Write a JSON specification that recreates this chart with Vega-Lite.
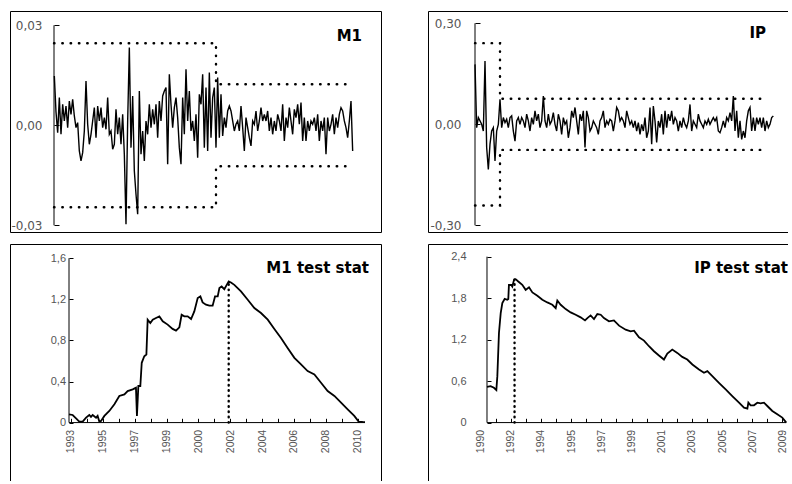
{
  "$schema": "https://vega.github.io/schema/vega-lite/v6.json",
  "background": "white",
  "padding": {"left": 9, "top": 10, "right": -12, "bottom": -14},
  "spacing": 10,
  "config": {
    "view": {"stroke": "black", "strokeWidth": 1},
    "axis": {"labelFont": "Liberation Sans", "labelColor": "#555555", "grid": false, "domain": false, "tickColor": "black", "tickWidth": 1, "title": null},
    "title": {"font": "DejaVu Sans", "fontWeight": "bold", "color": "black", "anchor": "end", "frame": "group", "orient": "top", "baseline": "alphabetic"}
  },
  "datasets": {
    "m1": [
      {"t":-1,"v":0.0148},{"t":0,"v":0.004},{"t":1,"v":-0.0022},{"t":2,"v":0.0083},{"t":3,"v":-0.0027},{"t":4,"v":0.0063},{"t":5,"v":0.0013},{"t":6,"v":0.0058},{"t":7,"v":-0.0007},{"t":8,"v":0.0073},{"t":9,"v":0.0033},{"t":10,"v":0.0078},{"t":11,"v":0.0028},{"t":12,"v":-0.0007},{"t":13,"v":0.0008},{"t":14,"v":-0.0077},{"t":15,"v":-0.0107},{"t":16,"v":-0.0082},{"t":17,"v":-0.0017},{"t":18,"v":0.0133},{"t":19,"v":0.0003},{"t":20,"v":-0.0057},{"t":21,"v":-0.0027},{"t":22,"v":0.0013},{"t":23,"v":0.0053},{"t":24,"v":-0.0037},{"t":25,"v":0.0058},{"t":26,"v":0.0013},{"t":27,"v":0.0053},{"t":28,"v":-0.0007},{"t":29,"v":0.0023},{"t":30,"v":-0.0012},{"t":31,"v":0.0083},{"t":32,"v":-0.0027},{"t":33,"v":-0.0017},{"t":34,"v":-0.0072},{"t":35,"v":-0.0057},{"t":36,"v":0.0048},{"t":37,"v":-0.0027},{"t":38,"v":0.0023},{"t":39,"v":-0.0057},{"t":40,"v":0.0033},{"t":41,"v":-0.0087},{"t":42,"v":-0.0297},{"t":43,"v":0.0013},{"t":44,"v":0.0233},{"t":45,"v":-0.0067},{"t":46,"v":0.0088},{"t":47,"v":-0.0137},{"t":48,"v":-0.0207},{"t":49,"v":-0.0267},{"t":50,"v":0.0103},{"t":51,"v":-0.0087},{"t":52,"v":-0.0017},{"t":53,"v":-0.0107},{"t":54,"v":0.0013},{"t":55,"v":-0.0027},{"t":56,"v":0.0063},{"t":57,"v":-0.0007},{"t":58,"v":0.0048},{"t":59,"v":0.0003},{"t":60,"v":0.0063},{"t":61,"v":-0.0037},{"t":62,"v":0.0073},{"t":63,"v":0.0013},{"t":64,"v":0.0088},{"t":65,"v":0.0103},{"t":66,"v":0.0113},{"t":67,"v":-0.0117},{"t":68,"v":0.0153},{"t":69,"v":0.0063},{"t":70,"v":-0.0007},{"t":71,"v":0.0053},{"t":72,"v":0.0083},{"t":73,"v":0.0023},{"t":74,"v":-0.0067},{"t":75,"v":-0.0117},{"t":76,"v":0.0083},{"t":77,"v":-0.0027},{"t":78,"v":0.0168},{"t":79,"v":0.0013},{"t":80,"v":0.0103},{"t":81,"v":-0.0017},{"t":82,"v":0.0013},{"t":83,"v":-0.0047},{"t":84,"v":0.0033},{"t":85,"v":-0.0097},{"t":86,"v":0.0093},
      {"t":87,"v":0.0063},{"t":88,"v":0.0153},{"t":89,"v":-0.0067},{"t":90,"v":0.0113},{"t":91,"v":-0.0077},{"t":92,"v":0.0158},{"t":93,"v":-0.0037},{"t":94,"v":0.0083},{"t":95,"v":0.0113},{"t":96,"v":-0.0067},{"t":97,"v":0.0143},{"t":98,"v":-0.0037},{"t":99,"v":0.0093},{"t":100,"v":-0.0032},{"t":101,"v":0.0023},{"t":102,"v":-0.0007},{"t":103,"v":0.0043},{"t":104,"v":0.0058},{"t":105,"v":0.0043},{"t":106,"v":0.0013},{"t":107,"v":-0.0017},{"t":108,"v":0.0003},{"t":109,"v":0.0013},{"t":110,"v":-0.0017},{"t":111,"v":0.0058},{"t":112,"v":-0.0007},{"t":113,"v":-0.0077},{"t":114,"v":0.0023},{"t":115,"v":-0.0007},{"t":116,"v":-0.0037},{"t":117,"v":-0.0062},{"t":118,"v":0.0013},{"t":119,"v":0.0003},{"t":120,"v":0.0043},{"t":121,"v":-0.0017},{"t":122,"v":0.0013},{"t":123,"v":0.0053},{"t":124,"v":0.0013},{"t":125,"v":0.0033},{"t":126,"v":0.0013},{"t":127,"v":0.0043},{"t":128,"v":-0.0017},{"t":129,"v":0.0023},{"t":130,"v":-0.0027},{"t":131,"v":0.0013},{"t":132,"v":-0.0017},{"t":133,"v":0.0033},{"t":134,"v":0.0013},{"t":135,"v":-0.0017},{"t":136,"v":0.0063},{"t":137,"v":-0.0047},{"t":138,"v":0.0023},{"t":139,"v":-0.0007},{"t":140,"v":0.0053},{"t":141,"v":0.0013},{"t":142,"v":-0.0027},{"t":143,"v":0.0048},{"t":144,"v":0.0023},{"t":145,"v":0.0063},{"t":146,"v":0.0003},{"t":147,"v":0.0068},{"t":148,"v":-0.0047},{"t":149,"v":0.0023},{"t":150,"v":-0.0047},{"t":151,"v":0.0013},{"t":152,"v":-0.0017},{"t":153,"v":0.0013},{"t":154,"v":0.0003},{"t":155,"v":0.0023},{"t":156,"v":-0.0017},{"t":157,"v":0.0033},{"t":158,"v":-0.0047},{"t":159,"v":0.0013},{"t":160,"v":-0.0017},{"t":161,"v":0.0023},{"t":162,"v":-0.0087},{"t":163,"v":0.0023},{"t":164,"v":-0.0017},{"t":165,"v":0.0003},{"t":166,"v":0.0033},{"t":167,"v":-0.0027},{"t":168,"v":0.0023},{"t":169,"v":-0.0007},{"t":170,"v":0.0033},{"t":171,"v":0.0053},{"t":172,"v":0.0043},{"t":173,"v":0.0013},{"t":174,"v":-0.0007},{"t":175,"v":-0.0037},{"t":176,"v":0.0013},{"t":177,"v":0.0073},{"t":178,"v":-0.0077}
    ],
    "m1band": [
      {"s":"u","k":0,"t":-1.2,"v":0.0246},{"s":"u","k":1,"t":96,"v":0.0246},{"s":"u","k":2,"t":96,"v":0.0123},{"s":"u","k":3,"t":178,"v":0.0123},
      {"s":"l","k":0,"t":-1.2,"v":-0.0246},{"s":"l","k":1,"t":96,"v":-0.0246},{"s":"l","k":2,"t":96,"v":-0.0123},{"s":"l","k":3,"t":178,"v":-0.0123}
    ],
    "ip": [
      {"t":0,"v":0.178},{"t":1,"v":-0.01},{"t":2,"v":0.02},{"t":3,"v":0.01},{"t":4,"v":0},{"t":5,"v":-0.02},{"t":6,"v":0.188},{"t":7,"v":-0.069},{"t":8,"v":-0.134},{"t":9,"v":-0.059},{"t":10,"v":-0.02},{"t":11,"v":-0.01},{"t":12,"v":-0.109},{"t":13,"v":-0.02},{"t":14,"v":0},{"t":15,"v":0.074},{"t":16,"v":-0.01},{"t":17,"v":0.02},{"t":18,"v":0.005},{"t":19,"v":0.015},{"t":20,"v":-0.01},{"t":21,"v":0.02},{"t":22,"v":0.025},{"t":23,"v":-0.02},{"t":24,"v":-0.05},{"t":25,"v":0.01},{"t":26,"v":0.02},{"t":27,"v":0},{"t":28,"v":0.02},{"t":29,"v":0.01},{"t":30,"v":-0.01},{"t":31,"v":0.03},{"t":32,"v":0.01},{"t":33,"v":-0.02},{"t":34,"v":0.02},{"t":35,"v":0},{"t":36,"v":0.04},{"t":37,"v":0.01},{"t":38,"v":0.03},{"t":39,"v":-0.01},{"t":40,"v":0.01},{"t":41,"v":0.084},{"t":42,"v":0.01},{"t":43,"v":-0.01},{"t":44,"v":0.03},{"t":45,"v":0},{"t":46,"v":0.01},{"t":47,"v":0.035},{"t":48,"v":0},{"t":49,"v":-0.02},{"t":50,"v":0.03},{"t":51,"v":0.01},{"t":52,"v":-0.03},{"t":53,"v":0.02},{"t":54,"v":0},{"t":55,"v":0.01},{"t":56,"v":-0.04},{"t":57,"v":-0.01},{"t":58,"v":0.04},{"t":59,"v":0.02},{"t":60,"v":0.05},{"t":61,"v":0.01},{"t":62,"v":-0.03},{"t":63,"v":0.03},{"t":64,"v":0.01},{"t":65,"v":0.04},{"t":66,"v":-0.069},{"t":67,"v":0.04},{"t":68,"v":0.02},{"t":69,"v":-0.02},{"t":70,"v":-0.01},{"t":71,"v":0.01},{"t":72,"v":0},{"t":73,"v":-0.01},{"t":74,"v":-0.03},{"t":75,"v":0.01},{"t":76,"v":0.02},{"t":77,"v":0.04},{"t":78,"v":-0.01},{"t":79,"v":0.01},{"t":80,"v":0},{"t":81,"v":0.015},{"t":82,"v":0.01},{"t":83,"v":-0.02},{"t":84,"v":0.01},{"t":85,"v":0.05},{"t":86,"v":0.04},{"t":87,"v":0.01},{"t":88,"v":0.02},{"t":89,"v":0.01},
      {"t":90,"v":-0.01},{"t":91,"v":0.04},{"t":92,"v":0.02},{"t":93,"v":0},{"t":94,"v":0.01},{"t":95,"v":-0.01},{"t":96,"v":0.01},{"t":97,"v":-0.02},{"t":98,"v":0.005},{"t":99,"v":-0.03},{"t":100,"v":0},{"t":101,"v":-0.02},{"t":102,"v":0.02},{"t":103,"v":-0.04},{"t":104,"v":-0.02},{"t":105,"v":0.05},{"t":106,"v":-0.059},{"t":107,"v":0.054},{"t":108,"v":0.01},{"t":109,"v":-0.054},{"t":110,"v":0.01},{"t":111,"v":-0.01},{"t":112,"v":0.03},{"t":113,"v":-0.03},{"t":114,"v":0.04},{"t":115,"v":-0.01},{"t":116,"v":0.03},{"t":117,"v":0.01},{"t":118,"v":0.04},{"t":119,"v":0},{"t":120,"v":0.02},{"t":121,"v":0.01},{"t":122,"v":-0.02},{"t":123,"v":0.01},{"t":124,"v":-0.01},{"t":125,"v":0.02},{"t":126,"v":0},{"t":127,"v":-0.01},{"t":128,"v":0.01},{"t":129,"v":0.059},{"t":130,"v":-0.02},{"t":131,"v":0.01},{"t":132,"v":0},{"t":133,"v":-0.01},{"t":134,"v":0.03},{"t":135,"v":0.01},{"t":136,"v":0},{"t":137,"v":-0.01},{"t":138,"v":0.01},{"t":139,"v":0},{"t":140,"v":0.015},{"t":141,"v":0},{"t":142,"v":0.01},{"t":143,"v":0.02},{"t":144,"v":0.01},{"t":145,"v":0.02},{"t":146,"v":-0.02},{"t":147,"v":-0.025},{"t":148,"v":-0.01},{"t":149,"v":0.01},{"t":150,"v":-0.01},{"t":151,"v":0.02},{"t":152,"v":0.01},{"t":153,"v":0.035},{"t":154,"v":0.01},{"t":155,"v":0.084},{"t":156,"v":-0.02},{"t":157,"v":0.04},{"t":158,"v":-0.04},{"t":159,"v":0.01},{"t":160,"v":-0.045},{"t":161,"v":-0.02},{"t":162,"v":-0.04},{"t":163,"v":0.01},{"t":164,"v":0.04},{"t":165,"v":0.05},{"t":166,"v":-0.02},{"t":167,"v":0.02},{"t":168,"v":-0.02},{"t":169,"v":0.02},{"t":170,"v":0},{"t":171,"v":0.02},{"t":172,"v":-0.01},{"t":173,"v":0.02},{"t":174,"v":-0.02},{"t":175,"v":0.01},{"t":176,"v":-0.01},{"t":177,"v":0},{"t":178,"v":0.02},{"t":179,"v":0.025}
    ],
    "ipband": [
      {"s":"u","k":0,"t":0,"v":0.241},{"s":"u","k":1,"t":15,"v":0.241},{"s":"u","k":2,"t":15,"v":0.076},{"s":"u","k":3,"t":175.2,"v":0.076},
      {"s":"l","k":0,"t":0,"v":-0.241},{"s":"l","k":1,"t":15,"v":-0.241},{"s":"l","k":2,"t":15,"v":-0.076},{"s":"l","k":3,"t":175.2,"v":-0.076}
    ],
    "m1stat": [
      {"t":0,"v":0.081},{"t":2.6,"v":0.074},{"t":5.0,"v":0.042},{"t":7.3,"v":0.01},{"t":9.7,"v":0.01},{"t":12.1,"v":0.048},{"t":14.4,"v":0.074},{"t":15.6,"v":0.055},{"t":16.8,"v":0.074},{"t":19.2,"v":0.048},{"t":20.3,"v":0.065},{"t":21.5,"v":0.01},{"t":22.7,"v":0.016},{"t":25.1,"v":0.065},{"t":28.6,"v":0.113},{"t":32.2,"v":0.178},{"t":35.7,"v":0.259},{"t":39.3,"v":0.275},{"t":41.6,"v":0.307},{"t":45.2,"v":0.323},{"t":47.5,"v":0.339},{"t":48.2,"v":0.065},{"t":49.2,"v":0.356},{"t":50.6,"v":0.356},{"t":51.6,"v":0.582},{"t":53.4,"v":0.646},{"t":54.9,"v":0.663},{"t":55.8,"v":1.002},{"t":57.7,"v":0.97},{"t":59.4,"v":1.002},{"t":61.7,"v":1.018},{"t":64.1,"v":1.034},{"t":66.5,"v":0.986},{"t":70.0,"v":0.954},{"t":73.5,"v":0.912},{"t":75.9,"v":0.895},{"t":78.3,"v":0.928},{"t":79.9,"v":1.05},{"t":81.8,"v":1.034},{"t":84.2,"v":1.034},{"t":86.6,"v":1.008},{"t":88.9,"v":1.083},{"t":91.3,"v":1.212},{"t":93.2,"v":1.228},{"t":94.8,"v":1.17},{"t":97.2,"v":1.148},{"t":99.6,"v":1.138},{"t":101.9,"v":1.138},{"t":103.6,"v":1.228},{"t":105.5,"v":1.228},{"t":106.7,"v":1.309},{"t":108.3,"v":1.325},{"t":110.2,"v":1.299},{"t":111.9,"v":1.341},{"t":113.3,"v":1.374},{"t":114.9,"v":1.364},{"t":117.3,"v":1.341},{"t":122.0,"v":1.277},{"t":126.8,"v":1.196},{"t":131.5,"v":1.115},{"t":136.2,"v":1.067},{"t":141.0,"v":1.002},{"t":145.7,"v":0.912},{"t":150.4,"v":0.824},{"t":155.1,"v":0.727},{"t":159.9,"v":0.63},{"t":164.6,"v":0.566},{"t":169.3,"v":0.501},{"t":174.1,"v":0.469},{"t":178.8,"v":0.388},{"t":183.5,"v":0.307},{"t":188.3,"v":0.259},{"t":193.0,"v":0.194},{"t":197.7,"v":0.129},{"t":202.4,"v":0.065},{"t":205.5,"v":0.01},{"t":208.3,"v":0.006},{"t":210,"v":0.005}
    ],
    "ipstat": [
      {"t":0,"v":0.518},{"t":2.9,"v":0.528},{"t":5.6,"v":0.504},{"t":7.5,"v":0.47},{"t":8.3,"v":0.672},{"t":9.6,"v":1.296},{"t":11.0,"v":1.584},{"t":12.3,"v":1.728},{"t":14.2,"v":1.79},{"t":16.3,"v":1.776},{"t":17.1,"v":1.786},{"t":17.6,"v":1.99},{"t":19.5,"v":1.99},{"t":20.3,"v":1.968},{"t":21.7,"v":2.064},{"t":23.0,"v":2.074},{"t":25.1,"v":2.04},{"t":28.3,"v":1.992},{"t":31.0,"v":1.92},{"t":33.7,"v":1.958},{"t":36.4,"v":1.882},{"t":40.4,"v":1.834},{"t":44.4,"v":1.776},{"t":48.4,"v":1.738},{"t":52.4,"v":1.704},{"t":55.1,"v":1.656},{"t":56.4,"v":1.766},{"t":59.1,"v":1.704},{"t":63.1,"v":1.642},{"t":67.1,"v":1.594},{"t":71.1,"v":1.56},{"t":75.1,"v":1.522},{"t":78.6,"v":1.478},{"t":80.5,"v":1.512},{"t":83.1,"v":1.55},{"t":85.8,"v":1.498},{"t":88.5,"v":1.57},{"t":91.2,"v":1.56},{"t":93.8,"v":1.512},{"t":97.8,"v":1.464},{"t":101.8,"v":1.478},{"t":105.9,"v":1.402},{"t":111.2,"v":1.344},{"t":115.2,"v":1.32},{"t":117.9,"v":1.33},{"t":121.9,"v":1.234},{"t":125.9,"v":1.186},{"t":129.9,"v":1.104},{"t":133.9,"v":1.032},{"t":137.9,"v":0.97},{"t":141.9,"v":0.912},{"t":144.6,"v":0.998},{"t":148.6,"v":1.056},{"t":152.6,"v":1.008},{"t":156.6,"v":0.95},{"t":160.6,"v":0.912},{"t":164.7,"v":0.84},{"t":170.0,"v":0.768},{"t":174.0,"v":0.72},{"t":176.7,"v":0.744},{"t":180.7,"v":0.672},{"t":186.0,"v":0.576},{"t":191.4,"v":0.48},{"t":196.7,"v":0.384},{"t":202.1,"v":0.288},{"t":206.1,"v":0.216},{"t":208.8,"v":0.202},{"t":209.6,"v":0.288},{"t":211.4,"v":0.25},{"t":214.1,"v":0.25},{"t":216.8,"v":0.288},{"t":219.4,"v":0.278},{"t":222.1,"v":0.288},{"t":224.8,"v":0.24},{"t":228.8,"v":0.168},{"t":232.8,"v":0.12},{"t":236.8,"v":0.072},{"t":240,"v":0}
    ]
  },
  "vconcat": [
    {
      "spacing": 45,
      "hconcat": [
        {
          "width": 371, "height": 221,
          "title": {"text": "M1", "fontSize": 15, "offset": -33, "dx": -19},
          "encoding": {
            "x": {"field": "t", "type": "quantitative", "scale": {"domain": [-27.6, 195], "nice": false, "zero": false}, "axis": null},
            "y": {"field": "v", "type": "quantitative", "scale": {"domain": [-0.03201, 0.03429], "nice": false, "zero": false},
                  "axis": {"values": [-0.03, 0, 0.03], "offset": -44, "tickSize": -5, "labelPadding": 17, "labelFont": "DejaVu Sans", "labelFontSize": 12,
                           "labelExpr": "(datum.value<0?'-':'')+replace(format(abs(datum.value),'.2f'),'.',',')"}}
          },
          "layer": [
            {"data": {"name": "m1"}, "mark": {"type": "line", "color": "black", "strokeWidth": 1.4}},
            {"data": {"name": "m1band"}, "mark": {"type": "line", "color": "black", "strokeWidth": 2.4, "strokeDash": [0.5, 7.8], "strokeCap": "round"},
             "encoding": {"detail": {"field": "s"}, "order": {"field": "k"}}},
            {"data": {"values": [{"t": -1.2, "v": -0.03, "v2": 0.03}]}, "mark": {"type": "rule", "color": "black", "strokeWidth": 1},
             "encoding": {"y2": {"field": "v2"}}}
          ]
        },
        {
          "width": 371, "height": 221,
          "title": {"text": "IP", "fontSize": 15, "offset": -30, "dx": -33},
          "encoding": {
            "x": {"field": "t", "type": "quantitative", "scale": {"domain": [-28.2, 194.4], "nice": false, "zero": false}, "axis": null},
            "y": {"field": "v", "type": "quantitative", "scale": {"domain": [-0.3199, 0.33654], "nice": false, "zero": false},
                  "axis": {"values": [-0.3, 0, 0.3], "offset": -47, "tickSize": -5, "labelPadding": 19, "labelFont": "DejaVu Sans", "labelFontSize": 12,
                           "labelExpr": "(datum.value<0?'-':'')+replace(format(abs(datum.value),'.2f'),'.',',')"}}
          },
          "layer": [
            {"data": {"name": "ip"}, "mark": {"type": "line", "color": "black", "strokeWidth": 1.4}},
            {"data": {"name": "ipband"}, "mark": {"type": "line", "color": "black", "strokeWidth": 2.4, "strokeDash": [0.5, 7.8], "strokeCap": "round"},
             "encoding": {"detail": {"field": "s"}, "order": {"field": "k"}}},
            {"data": {"values": [{"t": 0, "v": -0.3, "v2": 0.3}]}, "mark": {"type": "rule", "color": "black", "strokeWidth": 1},
             "encoding": {"y2": {"field": "v2"}}}
          ]
        }
      ]
    },
    {
      "spacing": 45,
      "hconcat": [
        {
          "width": 371, "height": 250,
          "title": {"text": "M1 test stat", "fontSize": 15, "offset": -32, "dx": -12},
          "encoding": {
            "x": {"field": "t", "type": "quantitative", "scale": {"domain": [-41.86, 221.35], "nice": false, "zero": false},
                  "axis": {"values": [1.4, 12.7, 24, 35.3, 46.6, 57.9, 69.2, 80.5, 91.8, 103.1, 114.4, 125.7, 137, 148.3, 159.6, 170.9, 182.2, 193.5, 204.8],
                           "offset": -71.7, "tickSize": -4, "labelPadding": 11, "labelAngle": -90, "labelFontSize": 10.5, "labelOverlap": false,
                           "labelExpr": "['1993','1995','1997','1999','2000','2002','2004','2006','2008','2010'][round((datum.value-1.4)/11.3)/2] || ''"}},
            "y": {"field": "v", "type": "quantitative", "scale": {"domain": [-0.6953, 1.7387], "nice": false, "zero": false},
                  "axis": {"values": [0, 0.4, 0.8, 1.2, 1.6], "offset": -59, "tickSize": -4, "labelPadding": 7.5, "labelFontSize": 11,
                           "labelExpr": "datum.value==0?'0':replace(format(datum.value,'.1f'),'.',',')"}}
          },
          "layer": [
            {"data": {"name": "m1stat"}, "mark": {"type": "line", "color": "black", "strokeWidth": 1.8}},
            {"data": {"values": [{"t": 113.3, "v": 0, "v2": 1.374}]}, "mark": {"type": "rule", "color": "black", "strokeWidth": 2.4, "strokeDash": [0.5, 4.8], "strokeCap": "round"},
             "encoding": {"y2": {"field": "v2"}}},
            {"data": {"values": [{"t": 0, "v": 0, "t2": 0, "v2": 1.6}, {"t": 0, "v": 0, "t2": 210, "v2": 0}]}, "mark": {"type": "rule", "color": "black", "strokeWidth": 1},
             "encoding": {"x2": {"field": "t2"}, "y2": {"field": "v2"}}}
          ]
        },
        {
          "width": 371, "height": 250,
          "title": {"text": "IP test stat", "fontSize": 15, "offset": -32, "dx": -11},
          "encoding": {
            "x": {"field": "t", "type": "quantitative", "scale": {"domain": [-47.3, 250.2], "nice": false, "zero": false},
                  "axis": {"values": [-5.1, 7, 19.1, 31.2, 43.3, 55.4, 67.5, 79.6, 91.7, 103.8, 115.9, 128, 140.1, 152.2, 164.3, 176.4, 188.5, 200.6, 212.7, 224.8, 236.9],
                           "offset": -71.7, "tickSize": -4, "labelPadding": 11, "labelAngle": -90, "labelFontSize": 10.5, "labelOverlap": false,
                           "tickOpacity": {"condition": {"test": "datum.value < 0", "value": 0}, "value": 1},
                           "labelExpr": "['1990','1992','1994','1995','1997','1999','2001','2003','2005','2007','2009'][round((datum.value+5.1)/12.1)/2] || ''"}},
            "y": {"field": "v", "type": "quantitative", "scale": {"domain": [-1.0329, 2.583], "nice": false, "zero": false},
                  "axis": {"values": [0, 0.6, 1.2, 1.8, 2.4], "offset": -59, "tickSize": -4, "labelPadding": 25, "labelFontSize": 11,
                           "labelExpr": "datum.value==0?'0':replace(format(datum.value,'.1f'),'.',',')"}}
          },
          "layer": [
            {"data": {"name": "ipstat"}, "mark": {"type": "line", "color": "black", "strokeWidth": 1.8}},
            {"data": {"values": [{"t": 22.1, "v": 0, "v2": 2.07}]}, "mark": {"type": "rule", "color": "black", "strokeWidth": 2.4, "strokeDash": [0.5, 4.8], "strokeCap": "round"},
             "encoding": {"y2": {"field": "v2"}}},
            {"data": {"values": [{"t": 0, "v": 0, "t2": 0, "v2": 2.4}, {"t": 0, "v": 0, "t2": 240, "v2": 0}]}, "mark": {"type": "rule", "color": "black", "strokeWidth": 1},
             "encoding": {"x2": {"field": "t2"}, "y2": {"field": "v2"}}}
          ]
        }
      ]
    }
  ]
}
